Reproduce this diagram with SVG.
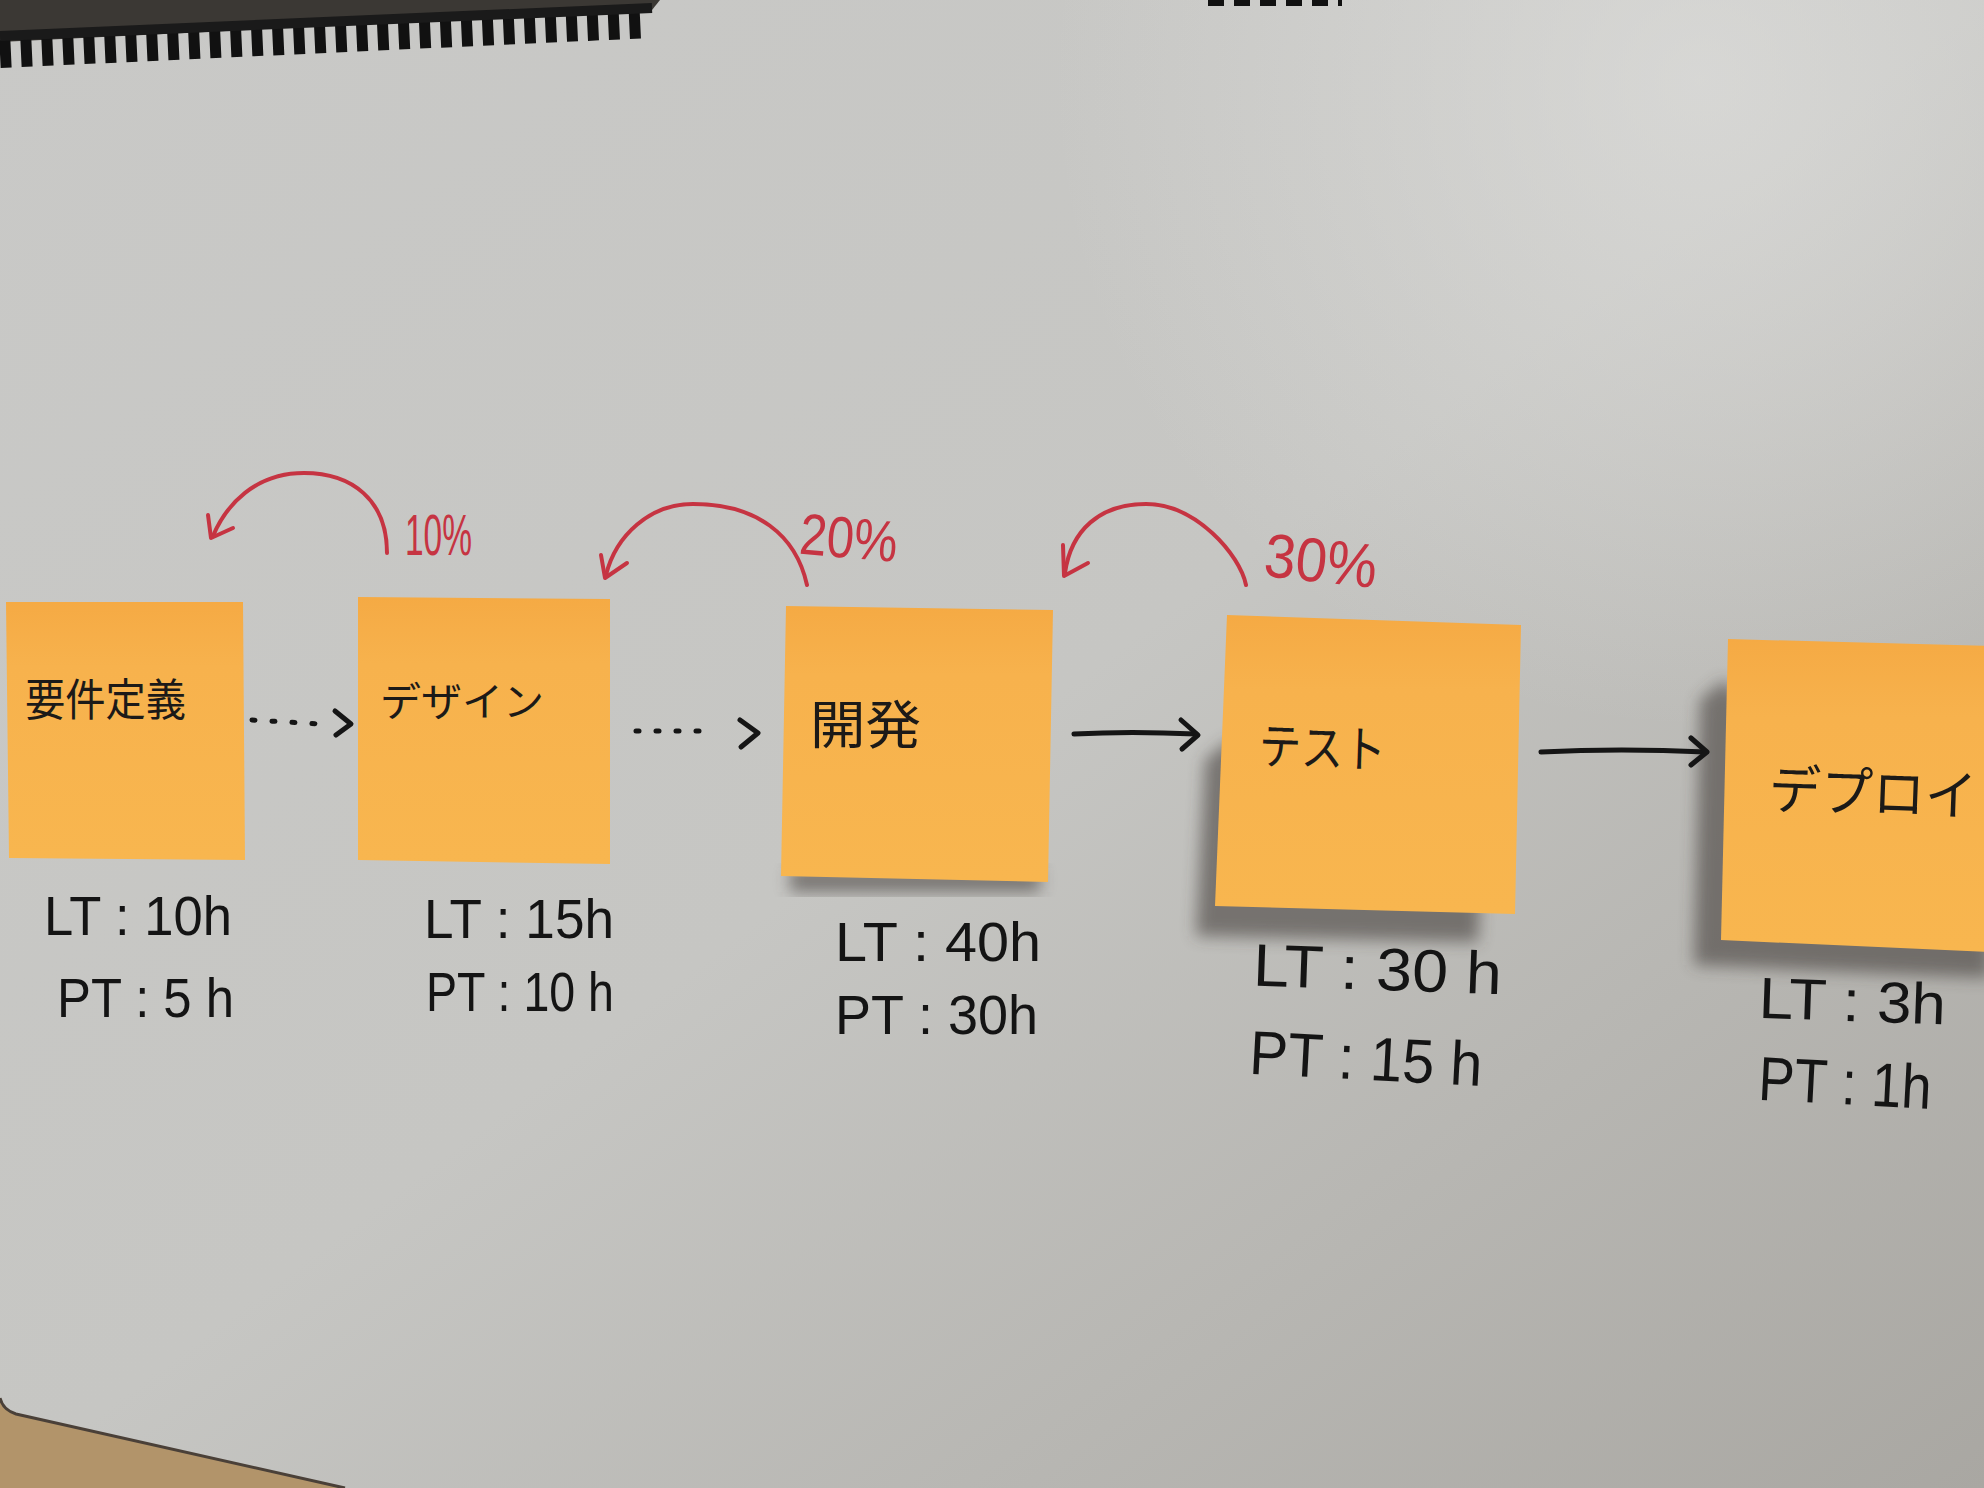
<svg xmlns="http://www.w3.org/2000/svg" width="1984" height="1488" viewBox="0 0 1984 1488">
  <defs>
    <linearGradient id="board" x1="0" y1="0" x2="1" y2="1">
      <stop offset="0" stop-color="#c9c9c7"/>
      <stop offset="0.5" stop-color="#c6c6c3"/>
      <stop offset="1" stop-color="#a9a7a2"/>
    </linearGradient>
    <radialGradient id="glare" cx="1700" cy="80" r="650" gradientUnits="userSpaceOnUse">
      <stop offset="0" stop-color="#e2e2e0" stop-opacity="0.6"/>
      <stop offset="1" stop-color="#e2e2e0" stop-opacity="0"/>
    </radialGradient>
    <linearGradient id="note" x1="0" y1="0" x2="0" y2="1">
      <stop offset="0" stop-color="#f5aa44"/>
      <stop offset="0.25" stop-color="#f7b24d"/>
      <stop offset="1" stop-color="#f8b64f"/>
    </linearGradient>
    <filter id="blur" x="-20%" y="-20%" width="140%" height="140%">
      <feGaussianBlur stdDeviation="8"/>
    </filter>
    <style>
      .note { fill: url(#note); }
      .shadow { fill: #3a3530; opacity: 0.55; filter: url(#blur); }
      .jp { font-family: "Noto Sans CJK JP", "Noto Sans", sans-serif; fill: #1c1a18; }
      .lbl { font-family: "Liberation Sans", "DejaVu Sans", sans-serif; fill: #141414; }
      .pct { font-family: "Liberation Sans", "DejaVu Sans", sans-serif; fill: #c63442; }
      .red { fill: none; stroke: #c63442; stroke-width: 4; stroke-linecap: round; stroke-linejoin: round; }
      .blk { fill: none; stroke: #151515; stroke-width: 5; stroke-linecap: round; stroke-linejoin: round; }
      .dot { fill: none; stroke: #151515; stroke-width: 5; stroke-linecap: round; stroke-dasharray: 3 17; }
    </style>
  </defs>

  <!-- board background -->
  <rect x="0" y="0" width="1984" height="1488" fill="url(#board)"/>
  <rect x="0" y="0" width="1984" height="1488" fill="url(#glare)"/>

  <!-- spiral binding -->
  <polygon points="0,0 660,0 652,10 0,42" fill="#3b3834"/>
  <line x1="0" y1="54" x2="650" y2="24" stroke="#111" stroke-width="28" stroke-dasharray="11 10"/>
  <line x1="0" y1="36" x2="652" y2="8" stroke="#1a1a1a" stroke-width="10"/>
  <line x1="1208" y1="3" x2="1342" y2="3" stroke="#111" stroke-width="6" stroke-dasharray="16 10"/>

  <!-- table at bottom-left -->
  <path d="M0,1398 Q3,1410 16,1414 L345,1488 L0,1488 Z" fill="#b2946a"/>
  <path d="M0,1398 Q3,1410 16,1414 L345,1488" fill="none" stroke="#4a4038" stroke-width="3"/>

  <!-- nodes -->
  <g id="node-requirements">
    <polygon class="note" points="6,602 243,602 245,860 9,858"/>
    <text class="jp" x="25" y="716" font-size="44" textLength="161" lengthAdjust="spacingAndGlyphs">要件定義</text>
    <text class="lbl" x="44" y="935" font-size="56" textLength="188" lengthAdjust="spacingAndGlyphs">LT : 10h</text>
    <text class="lbl" x="57" y="1017" font-size="56" textLength="177" lengthAdjust="spacingAndGlyphs">PT : 5 h</text>
  </g>

  <g id="node-design">
    <polygon class="note" points="358,597 610,599 610,864 358,860"/>
    <text class="jp" x="380" y="716" font-size="40" textLength="164" lengthAdjust="spacingAndGlyphs">デザイン</text>
    <text class="lbl" x="424" y="938" font-size="56" textLength="190" lengthAdjust="spacingAndGlyphs">LT : 15h</text>
    <text class="lbl" x="426" y="1011" font-size="56" textLength="188" lengthAdjust="spacingAndGlyphs">PT : 10 h</text>
  </g>

  <g id="node-development">
    <rect class="shadow" x="790" y="868" width="250" height="24"/>
    <polygon class="note" points="786,606 1053,610 1048,882 781,876"/>
    <text class="jp" x="810" y="744" font-size="52" textLength="111" lengthAdjust="spacingAndGlyphs">開発</text>
    <text class="lbl" x="835" y="961" font-size="56" textLength="206" lengthAdjust="spacingAndGlyphs">LT : 40h</text>
    <text class="lbl" x="835" y="1034" font-size="56" textLength="203" lengthAdjust="spacingAndGlyphs">PT : 30h</text>
  </g>

  <g id="node-test">
    <polygon class="shadow" points="1205,760 1230,740 1480,900 1478,942 1196,936"/>
    <polygon class="note" points="1227,615 1521,625 1515,914 1215,906"/>
    <text class="jp" x="1259" y="766" font-size="50" textLength="127" lengthAdjust="spacingAndGlyphs" transform="rotate(2 1320 745)">テスト</text>
    <text class="lbl" x="1253" y="990" font-size="60" textLength="249" lengthAdjust="spacingAndGlyphs" transform="rotate(2 1380 970)">LT : 30 h</text>
    <text class="lbl" x="1250" y="1080" font-size="62" textLength="233" lengthAdjust="spacingAndGlyphs" transform="rotate(3 1370 1050)">PT : 15 h</text>
  </g>

  <g id="node-deploy">
    <polygon class="shadow" points="1700,700 1724,680 1990,940 1990,978 1694,965"/>
    <polygon class="note" points="1728,639 1990,646 1990,952 1721,940"/>
    <text class="jp" x="1769" y="812" font-size="54" textLength="208" lengthAdjust="spacingAndGlyphs" transform="rotate(2 1870 790)">デプロイ</text>
    <text class="lbl" x="1759" y="1021" font-size="58" textLength="187" lengthAdjust="spacingAndGlyphs" transform="rotate(2 1850 1000)">LT : 3h</text>
    <text class="lbl" x="1759" y="1104" font-size="62" textLength="173" lengthAdjust="spacingAndGlyphs" transform="rotate(3 1840 1075)">PT : 1h</text>
  </g>

  <!-- connectors -->
  <g id="connectors">
    <!-- forward flow -->
    <line class="dot" x1="252" y1="720" x2="320" y2="724"/>
    <polyline class="blk" points="335,711 351,724 336,735"/>
    <line class="dot" x1="636" y1="731" x2="712" y2="731"/>
    <polyline class="blk" points="740,720 758,733 741,747"/>
    <path class="blk" d="M1074,734 Q1130,731 1196,734"/>
    <polyline class="blk" points="1181,720 1198,735 1182,749"/>
    <path class="blk" d="M1541,752 Q1620,748 1706,752"/>
    <polyline class="blk" points="1691,738 1707,752 1691,765"/>

    <!-- rework loops -->
    <path class="red" d="M387,553 C387,500 352,473 304,473 C255,473 226,505 213,536"/>
    <polyline class="red" points="208,515 211,538 233,528"/>
    <text class="pct" x="405" y="555" font-size="58" textLength="67" lengthAdjust="spacingAndGlyphs">10%</text>

    <path class="red" d="M807,585 C796,535 757,504 693,504 C650,504 616,535 606,575"/>
    <polyline class="red" points="601,555 605,578 627,563"/>
    <text class="pct" x="800" y="558" font-size="58" textLength="98" lengthAdjust="spacingAndGlyphs" transform="rotate(5 850 535)">20%</text>

    <path class="red" d="M1246,585 C1240,555 1196,504 1146,504 C1100,504 1071,530 1065,573"/>
    <polyline class="red" points="1063,545 1064,576 1088,563"/>
    <text class="pct" x="1265" y="582" font-size="62" textLength="113" lengthAdjust="spacingAndGlyphs" transform="rotate(6 1320 555)">30%</text>
  </g>
</svg>
